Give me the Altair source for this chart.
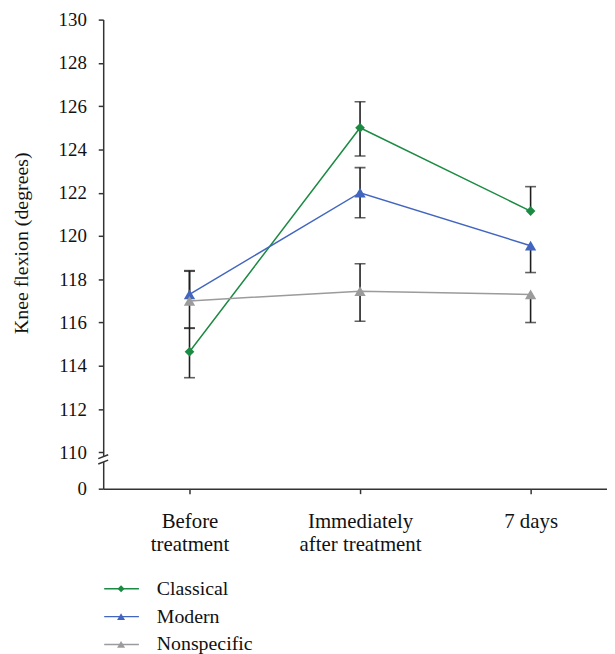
import json
import altair as alt
import pandas as pd

# ---------------- data ----------------
categories = ["Before\ntreatment", "Immediately\nafter treatment", "7 days"]
series = ["Classical", "Modern", "Nonspecific"]
colors = ["#1b8a42", "#4265c0", "#9b9b9b"]
shapes = ["diamond", "triangle-up", "triangle-up"]
marker_sizes = [95, 130, 130]
legend_marker_sizes = [50, 65, 65]

classical_mean = [114.65, 125.0, 121.15]
classical_lo = [113.45, 123.7, 121.15]
classical_hi = [115.75, 126.2, 122.28]

modern_mean = [117.3, 122.0, 119.55]
modern_lo = [117.3, 120.84, 118.31]
modern_hi = [118.4, 123.16, 119.55]

nonspecific_mean = [117.0, 117.45, 117.3]
nonspecific_lo = [115.73, 116.06, 116.0]
nonspecific_hi = [118.37, 118.72, 117.3]

y_zero = 108.32              # position standing for "0" below the axis break
y_ticks = [110, 112, 114, 116, 118, 120, 122, 124, 126, 128, 130]
break_marks = [109.8, 109.55]

FONT = "'Liberation Serif', 'Times New Roman', Times, serif"
AXIS_COLOR = "#333333"
ERR_COLOR = "#1e1e1e"

# ---------------- tables ----------------
means = [classical_mean, modern_mean, nonspecific_mean]
los = [classical_lo, modern_lo, nonspecific_lo]
his = [classical_hi, modern_hi, nonspecific_hi]

rows = []
caps = []
for s, m, lo, hi in zip(series, means, los, his):
    for i in range(len(categories)):
        rows.append({"series": s, "idx": i, "mean": m[i], "lo": lo[i], "hi": hi[i]})
        if lo[i] < m[i]:
            caps.append({"series": s, "idx": i, "cap": lo[i]})
        if hi[i] > m[i]:
            caps.append({"series": s, "idx": i, "cap": hi[i]})
df = pd.DataFrame(rows)
df_caps = pd.DataFrame(caps)
df_break = pd.DataFrame({"b": break_marks,
                         "b_lo": [b - 0.09 for b in break_marks],
                         "b_hi": [b + 0.09 for b in break_marks]})

W, H = 508, 473
x_scale = alt.Scale(domain=[-0.506, 2.448], nice=False, zero=False)
y_scale = alt.Scale(domain=[y_zero, 130], nice=False, zero=False)

x_labels = json.dumps([c.split("\n") for c in categories])
x_axis = alt.Axis(
    values=list(range(len(categories))),
    labelExpr=f"{x_labels}[datum.value]",
    title=None, grid=False,
    tickSize=5, tickColor=AXIS_COLOR, tickWidth=1.5,
    domainColor=AXIS_COLOR, domainWidth=1.5,
    labelFont=FONT, labelFontSize=21, labelColor="#111111",
    labelLineHeight=23, labelPadding=17, labelBaseline="top",
)
y_axis = alt.Axis(
    values=[y_zero] + y_ticks,
    labelExpr=f"datum.value < {y_ticks[0] - 0.5} ? '0' : datum.label",
    title="Knee flexion (degrees)", grid=False,
    tickSize=5, tickColor=AXIS_COLOR, tickWidth=1.5,
    domainColor=AXIS_COLOR, domainWidth=1.5,
    labelFont=FONT, labelFontSize=19, labelColor="#111111", labelPadding=12,
    titleFont=FONT, titleFontSize=20, titleFontWeight="normal", titleColor="#111111",
    titleX=-82, titleY=225, titleAngle=270, titleBaseline="middle", titleAlign="center",
)

X = alt.X("idx:Q", scale=x_scale, axis=x_axis)

layers = []

# axis break
layers.append(
    alt.Chart(pd.DataFrame({"a": [break_marks[0]], "b": [break_marks[1]]}))
    .mark_rule(color="white", strokeWidth=4)
    .encode(x=alt.value(0), y=alt.Y("a:Q", scale=y_scale, axis=y_axis), y2="b:Q")
)
layers.append(
    alt.Chart(df_break)
    .mark_rule(color=AXIS_COLOR, strokeWidth=1.5)
    .encode(x=alt.value(-5), x2=alt.value(5),
            y=alt.Y("b_lo:Q", scale=y_scale, axis=y_axis), y2="b_hi:Q")
)

# error bars
layers.append(
    alt.Chart(df).mark_rule(color=ERR_COLOR, strokeWidth=1.6)
    .encode(x=X, y=alt.Y("lo:Q", scale=y_scale, axis=y_axis), y2="hi:Q")
)
layers.append(
    alt.Chart(df_caps).mark_tick(color=ERR_COLOR, orient="horizontal", size=11, thickness=1.6)
    .encode(x=X, y=alt.Y("cap:Q", scale=y_scale, axis=y_axis))
)

# lines and markers
for s, c, shp, sz in zip(series, colors, shapes, marker_sizes):
    sub = df[df["series"] == s]
    layers.append(
        alt.Chart(sub).mark_line(color=c, strokeWidth=1.5)
        .encode(x=X, y=alt.Y("mean:Q", scale=y_scale, axis=y_axis))
    )
    layers.append(
        alt.Chart(sub).mark_point(color=c, shape=shp, size=sz, filled=True, opacity=1)
        .encode(x=X, y=alt.Y("mean:Q", scale=y_scale, axis=y_axis))
    )

# legend (drawn below the plot)
legend_top = 574
legend_step = 28
for i, (s, c, shp, sz) in enumerate(zip(series, colors, shapes, legend_marker_sizes)):
    py = legend_top + i * legend_step
    one = pd.DataFrame({"name": [s]})
    layers.append(
        alt.Chart(one).mark_rule(color=c, strokeWidth=1.5)
        .encode(x=alt.value(1), x2=alt.value(36), y=alt.value(py))
    )
    layers.append(
        alt.Chart(one).mark_point(color=c, shape=shp, size=sz, filled=True, opacity=1)
        .encode(x=alt.value(18), y=alt.value(py))
    )
    layers.append(
        alt.Chart(one).mark_text(font=FONT, fontSize=20, align="left", baseline="middle", color="#111111")
        .encode(x=alt.value(54), y=alt.value(py), text="name:N")
    )

chart = (
    alt.layer(*layers)
    .properties(width=W, height=H,
                padding={"left": 4, "top": 0, "right": 0, "bottom": 0})
    .configure_view(stroke=None)
)

chart.save("out.html", embed_options={"renderer": "svg", "actions": False})
